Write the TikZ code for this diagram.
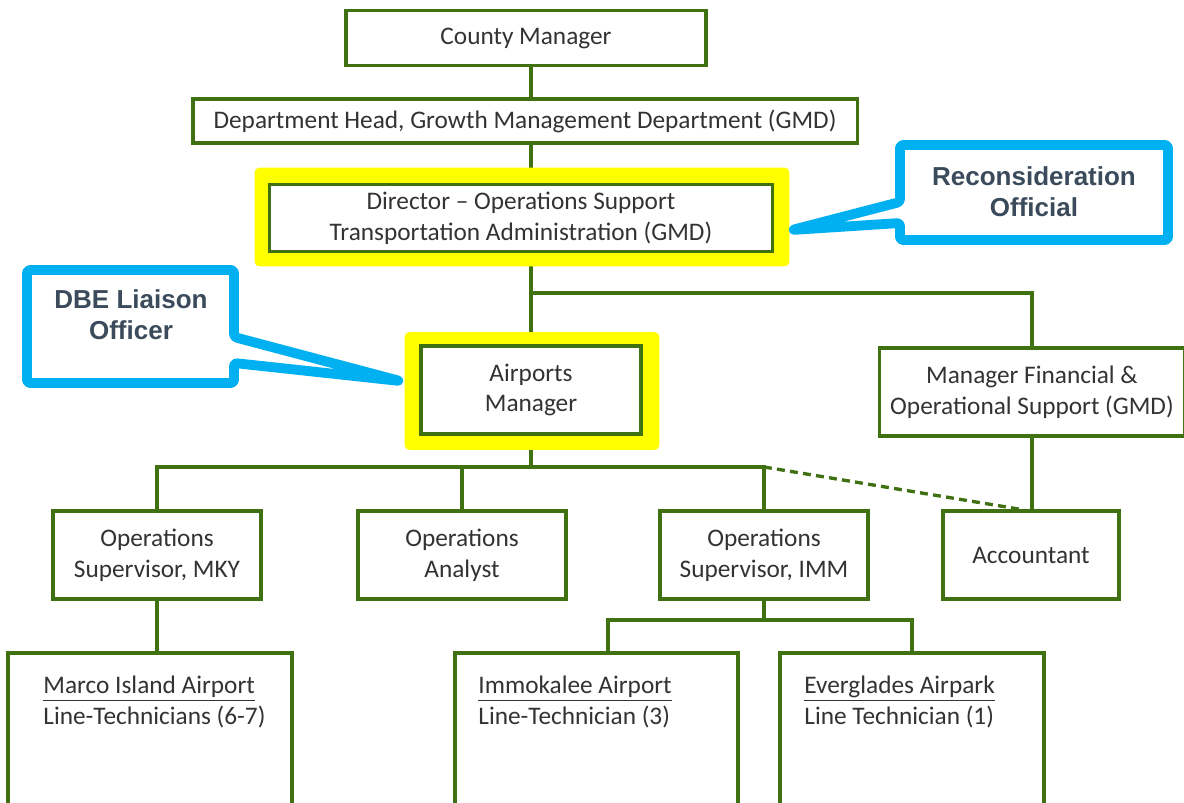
\documentclass[tikz,border=0pt]{standalone}
\usepackage{fontspec}
\usetikzlibrary{positioning}
\newfontfamily\orgfont{Carlito}
\newfontfamily\tagfont{Liberation Sans}
\definecolor{orggreen}{RGB}{63,112,18}
\definecolor{tagblue}{RGB}{0,176,240}
\definecolor{tagtext}{RGB}{59,75,92}
\definecolor{hiyellow}{RGB}{255,255,0}
\pgfdeclarelayer{background}
\pgfsetlayers{background,main}

\tikzset{
  orgbox/.style={draw=orggreen, line width=2.2pt, fill=white, inner sep=0pt, align=center,
    text=black!80, font=\orgfont\fontsize{14.4}{17.6}\selectfont},
  hilite/.style={fill=hiyellow, rounded corners=0.1cm, inner sep=0pt},
  link/.style={draw=orggreen, line width=1.9pt},
  dashlink/.style={link, dash pattern=on 4.5pt off 3pt},
  tagshape/.style={draw=tagblue, line width=5.6pt, fill=white, rounded corners=0.06cm, line join=round},
  tagtxt/.style={align=center, text=tagtext, font=\tagfont\bfseries\fontsize{14.8}{17.6}\selectfont},
  techlbl/.style={anchor=north west, inner sep=0pt, align=left, text=black!80,
    font=\orgfont\fontsize{14.4}{17.6}\selectfont}
}

\begin{document}
\begin{tikzpicture}[x=0.02cm, y=-0.02cm]
\useasboundingbox (0,0) rectangle (1184,803);
\clip (0,0) rectangle (1184,803);

% top of the chart
\node[orgbox, minimum width=7.2cm, minimum height=1.1cm] (county) at (526,38) {County Manager};
\node[orgbox, minimum width=13.3cm, minimum height=0.88cm] (dept) at (525,121)
  {Department Head, Growth Management Department (GMD)};
\node[hilite, minimum width=10.7cm, minimum height=1.98cm] (dirhl) at (522,217) {};
\node[orgbox, minimum width=10.06cm, minimum height=1.34cm] (director) at (521,218)
  {Director – Operations Support\\Transportation Administration (GMD)};

% managers
\node[hilite, minimum width=5.1cm, minimum height=2.36cm] (airhl) at (532,391) {};
\node[orgbox, minimum width=4.4cm, minimum height=1.76cm] (airports) at (531,390) {Airports\\Manager};
\node[orgbox, minimum width=6.1cm, minimum height=1.76cm] (mgrfin) at (1032,392)
  {\rule{0pt}{10pt}Manager Financial \&\\Operational Support (GMD)};

% third row
\node[orgbox, minimum width=4.16cm, minimum height=1.76cm] (mky) at (157,555) {Operations\\Supervisor, MKY};
\node[orgbox, minimum width=4.16cm, minimum height=1.76cm] (analyst) at (462,555) {Operations\\Analyst};
\node[orgbox, minimum width=4.16cm, minimum height=1.76cm] (imm) at (764,555) {Operations\\Supervisor, IMM};
\node[orgbox, minimum width=3.52cm, minimum height=1.76cm] (acct) at (1031,555) {Accountant};

% airports
\node[orgbox, minimum width=5.68cm, minimum height=3.54cm] (marco) at (150,741.5) {};
\node[orgbox, minimum width=5.66cm, minimum height=3.54cm] (immok) at (596.5,741.5) {};
\node[orgbox, minimum width=5.28cm, minimum height=3.54cm] (everg) at (912,741.5) {};
\node[techlbl, below right=0.5cm and 0.74cm of marco.north west] (marcotxt)
  {\underline{Marco Island Airport}\\Line-Technicians (6-7)};
\node[techlbl, below right=0.5cm and 0.5cm of immok.north west] (immoktxt)
  {\underline{Immokalee Airport}\\Line-Technician (3)};
\node[techlbl, below right=0.5cm and 0.52cm of everg.north west] (evergtxt)
  {\underline{Everglades Airpark}\\Line Technician (1)};

% connecting them
\coordinate (trunk) at (531,0);
\coordinate (fork1) at (531,293);
\coordinate (fork2) at (531,467);
\coordinate (fork3) at (764,620);
\begin{pgfonlayer}{background}
\draw[link] (county.south -| trunk) -- (dept.north -| trunk);
\draw[link] (dept.south -| trunk) -- (director.north -| trunk);
\draw[link] (director.south -| trunk) -- (airports.north);
\draw[link] (fork1) -| (mgrfin.north);
\draw[link] (airports.south) -- (fork2);
\draw[link] (mky.north) |- (fork2) -| (imm.north);
\draw[link] (fork2) -| (analyst.north);
\draw[dashlink] (fork2 -| imm.north) -- ([xshift=-0.24cm]acct.north);
\draw[link] (mgrfin.south) -- (mgrfin.south |- acct.north);
\draw[link] (mky.south) -- (mky.south |- marco.north);
\draw[link] (imm.south) -- (fork3);
\draw[link] ([xshift=0.23cm]immok.north) |- (fork3) -| (everg.north);
\end{pgfonlayer}

% callouts
\draw[tagshape] (27,270) -- (234,270) -- (234,337) -- (400,381) -- (234,363) -- (234,383) -- (27,383) -- cycle;
\node[tagtxt] (dbe) at (131,315) {DBE Liaison\\Officer};
\draw[tagshape] (900,145) -- (1168,145) -- (1168,240) -- (900,240) -- (900,223) -- (792,230) -- (900,202) -- cycle;
\node[tagtxt] (recon) at (1034,192) {Reconsideration\\Official};
\end{tikzpicture}
\end{document}
